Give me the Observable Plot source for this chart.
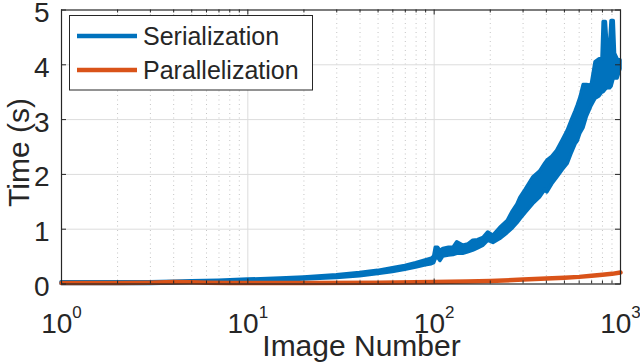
<!DOCTYPE html>
<html><head><meta charset="utf-8">
<script src="https://cdn.jsdelivr.net/npm/d3@7"></script>
<script src="https://cdn.jsdelivr.net/npm/@observablehq/plot@0.6"></script>
<style>body{margin:0;background:#fff}</style>
</head><body><div id="chart"></div>
<script>
// ---- data ----
const seriesNames = ["Serialization", "Parallelization"];
const axisTitleX = "Image Number";
const axisTitleY = "Time (s)";

// Serialization: noisy band (lower / upper envelope)
const serX    = [1,2,3,4,5,7,10,15,20,30,40,50,60,70,80,90,97,100,102,105,108,112,120,127,133,143,152,162,172,184,195,208,226,248,265,280,290,310,340,370,395,405,430,457,490,520,550,574,589,610,634,660,700,735,770,800,812,835,850,880,895,920,935,965,1000];
const serLow  = [0.00,0.00,0.00,0.01,0.02,0.03,0.04,0.06,0.08,0.11,0.14,0.18,0.22,0.26,0.30,0.34,0.36,0.38,0.46,0.48,0.42,0.50,0.52,0.53,0.55,0.55,0.58,0.61,0.65,0.70,0.79,0.75,0.82,0.93,1.02,1.11,1.18,1.30,1.46,1.58,1.72,1.67,1.82,1.94,2.08,2.19,2.40,2.55,2.60,2.75,2.85,3.05,3.25,3.38,3.42,3.50,3.50,3.55,3.57,3.57,3.60,3.75,3.75,3.75,3.92];
const serHigh = [0.03,0.03,0.03,0.04,0.05,0.06,0.08,0.10,0.12,0.16,0.20,0.24,0.29,0.33,0.38,0.43,0.46,0.50,0.66,0.66,0.60,0.64,0.66,0.66,0.76,0.70,0.72,0.79,0.80,0.84,0.94,0.88,1.02,1.15,1.33,1.45,1.57,1.72,1.94,2.05,2.20,2.25,2.32,2.43,2.62,2.79,3.00,3.15,3.25,3.40,3.63,3.63,3.62,4.05,4.10,4.10,4.78,4.78,4.37,4.37,4.80,4.80,4.20,4.10,4.08];

// Parallelization
const parX = [1,2,3,4,5,6,8,10,20,50,100,150,200,300,400,500,600,700,800,900,1000];
const parY = [0.02,0.02,0.025,0.035,0.03,0.025,0.02,0.02,0.02,0.025,0.035,0.045,0.055,0.08,0.10,0.115,0.13,0.15,0.17,0.185,0.21];

// ticks
const xMajorTicks = [1,10,100,1000];
const xTickExponents = ["0","1","2","3"];
const xMinorTicks = [2,3,4,5,6,7,8,9,20,30,40,50,60,70,80,90,200,300,400,500,600,700,800,900];
const yTicks = [0,1,2,3,4,5];
const yTickLabels = ["0","1","2","3","4","5"];

// ---- chart ----
const blue = "#0072BD", orange = "#D95319", ink = "#262626";
const font = "'Liberation Sans', Arial, Helvetica, sans-serif";
const W = 640, H = 363, mL = 61, mR = 20, mT = 9.5, mB = 79.5;
const plotW = W - mL - mR, plotH = H - mT - mB;
const ser = serX.map((x, i) => ({x, lo: serLow[i], hi: serHigh[i]}));
const par = parX.map((x, i) => ({x, y: parY[i]}));
const xLab = new Map(xMajorTicks.map((t, i) => [t, xTickExponents[i]]));
const yLab = new Map(yTicks.map((t, i) => [t, yTickLabels[i]]));
const tickMajor = 5, tickMinor = 3;

const chart = Plot.plot({
  width: W, height: H,
  marginLeft: mL, marginRight: mR, marginTop: mT, marginBottom: mB,
  style: {fontFamily: font, color: ink, background: "white", overflow: "visible"},
  x: {type: "log", domain: [1, 1000]},
  y: {domain: [0, 5]},
  marks: [
    Plot.ruleX(xMinorTicks, {stroke: "#c4c4c4", strokeDasharray: "1,3.5"}),
    Plot.ruleX(xMajorTicks.slice(1, -1), {stroke: "#dcdcdc"}),
    Plot.ruleY(yTicks.slice(1, -1), {stroke: "#dcdcdc"}),
    Plot.areaY(ser, {x: "x", y1: "lo", y2: "hi", fill: blue, stroke: blue, strokeWidth: 3.5, strokeLinejoin: "round"}),
    Plot.line(par, {x: "x", y: "y", stroke: orange, strokeWidth: 4.5}),
    // inward ticks on all four sides
    Plot.ruleX(xMajorTicks, {stroke: ink, insetTop: plotH - tickMajor}),
    Plot.ruleX(xMajorTicks, {stroke: ink, insetBottom: plotH - tickMajor}),
    Plot.ruleX(xMinorTicks, {stroke: ink, insetTop: plotH - tickMinor}),
    Plot.ruleX(xMinorTicks, {stroke: ink, insetBottom: plotH - tickMinor}),
    Plot.ruleY(yTicks, {stroke: ink, insetRight: plotW - tickMajor}),
    Plot.ruleY(yTicks, {stroke: ink, insetLeft: plotW - tickMajor}),
    Plot.frame({stroke: ink, strokeWidth: 1.2}),
    Plot.axisX({anchor: "bottom", ticks: xMajorTicks, tickSize: 0, tickPadding: 29, tickFormat: d => xLab.get(d), fontSize: 28, label: null}),
    Plot.axisY({anchor: "left", ticks: yTicks, tickSize: 0, tickPadding: 12, dy: 3, tickFormat: d => yLab.get(d), fontSize: 28, label: null}),
    Plot.text([axisTitleX], {text: d => d, frameAnchor: "bottom", textAnchor: "middle", lineAnchor: "bottom", dx: 20.5, dy: 71.5, fontSize: 30, fill: ink}),
    Plot.text([axisTitleY], {text: d => d, frameAnchor: "left", textAnchor: "middle", rotate: -90, lineAnchor: "bottom", dx: -33, dy: 5.5, fontSize: 30, fill: ink})
  ]
});
document.getElementById("chart").appendChild(chart);

// superscript exponents on the x tick labels: 10^n
const svg = d3.select(chart);
svg.selectAll('g[aria-label="x-axis tick label"] text').each(function () {
  const e = this.textContent;
  const t = d3.select(this);
  t.text(null);
  t.append("tspan").text("10");
  t.append("tspan").attr("dy", -15).attr("font-size", 17).text(e);
});

// legend
const lg = svg.append("g").attr("font-family", font).attr("text-anchor", "start");
lg.append("rect").attr("x", 69.5).attr("y", 15.5).attr("width", 243).attr("height", 74.5)
  .attr("fill", "white").attr("stroke", ink).attr("stroke-width", 1);
const lColors = [blue, orange];
const lY = [36, 70];
seriesNames.forEach((name, i) => {
  lg.append("line").attr("x1", 77).attr("x2", 137).attr("y1", lY[i]).attr("y2", lY[i])
    .attr("stroke", lColors[i]).attr("stroke-width", 4.5);
  lg.append("text").attr("x", 143).attr("y", lY[i] + 9).attr("font-size", 25).attr("fill", ink).text(name);
});
</script></body></html>
